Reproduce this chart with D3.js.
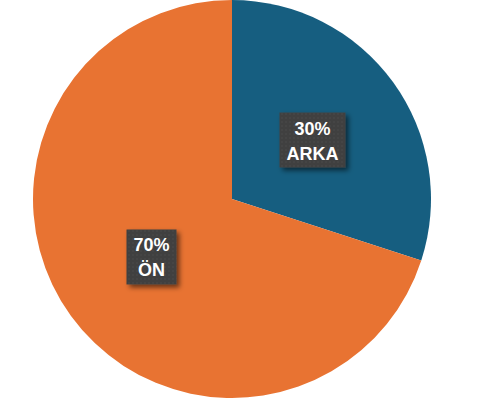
<!DOCTYPE html>
<html>
<head>
<meta charset="utf-8">
<script src="https://cdn.jsdelivr.net/npm/d3@7"></script>
<style>
  body { margin: 0; background: #fff; }
  svg { display: block; }
  text { font-family: "Liberation Sans", Arial, sans-serif; font-weight: bold; }
</style>
</head>
<body>
<div id="chart"></div>
<script>
// Data
var categories = ['ARKA', 'ÖN'];
var values = [30, 70];
var colors = ['#165E80', '#E87332'];

var width = 490, height = 405;
var cx = 232, cy = 199, radius = 199;

var svg = d3.select('#chart').append('svg')
    .attr('width', width)
    .attr('height', height);

var defs = svg.append('defs');

// dotted texture for label boxes
var pat = defs.append('pattern')
    .attr('id', 'dots')
    .attr('width', 4).attr('height', 4)
    .attr('patternUnits', 'userSpaceOnUse');
pat.append('rect').attr('width', 4).attr('height', 4).attr('fill', '#414141');
pat.append('rect').attr('x', 1).attr('y', 1).attr('width', 1).attr('height', 1).attr('fill', '#4d4d4d');

var shadow = defs.append('filter').attr('id', 'shadow')
    .attr('x', '-30%').attr('y', '-30%').attr('width', '170%').attr('height', '170%');
shadow.append('feDropShadow')
    .attr('dx', 3).attr('dy', 3).attr('stdDeviation', 2.5)
    .attr('flood-color', '#000').attr('flood-opacity', 0.55);

var data = categories.map(function(c, i) { return { name: c, value: values[i], color: colors[i] }; });

var pie = d3.pie().sort(null).value(function(d) { return d.value; });
var arc = d3.arc().innerRadius(0).outerRadius(radius);
var labelArc = d3.arc().innerRadius(radius * 0.5).outerRadius(radius * 0.5);

var g = svg.append('g').attr('transform', 'translate(' + cx + ',' + cy + ')');

var arcs = pie(data);

g.selectAll('path.slice').data(arcs)
    .enter().append('path')
    .attr('class', 'slice')
    .attr('d', arc)
    .attr('fill', function(d) { return d.data.color; });

var total = d3.sum(values);

var labels = g.selectAll('g.label').data(arcs)
    .enter().append('g')
    .attr('class', 'label')
    .attr('transform', function(d) {
        var c = labelArc.centroid(d);
        return 'translate(' + c[0] + ',' + c[1] + ')';
    });

labels.each(function(d) {
    var lg = d3.select(this);
    var lines = [Math.round(d.data.value / total * 100) + '%', d.data.name];
    var rect = lg.append('rect').attr('fill', 'url(#dots)').attr('filter', 'url(#shadow)');
    var txt = lg.append('text')
        .attr('text-anchor', 'middle')
        .attr('fill', '#fff')
        .style('font-size', '18px');
    lines.forEach(function(l, i) {
        txt.append('tspan')
            .attr('x', 0)
            .attr('y', i === 0 ? -6 : 19)
            .text(l);
    });
    var bb = txt.node().getBBox();
    var padX = 7;
    rect.attr('x', bb.x - padX)
        .attr('y', -28)
        .attr('width', bb.width + padX * 2)
        .attr('height', 55);
});
</script>
</body>
</html>
